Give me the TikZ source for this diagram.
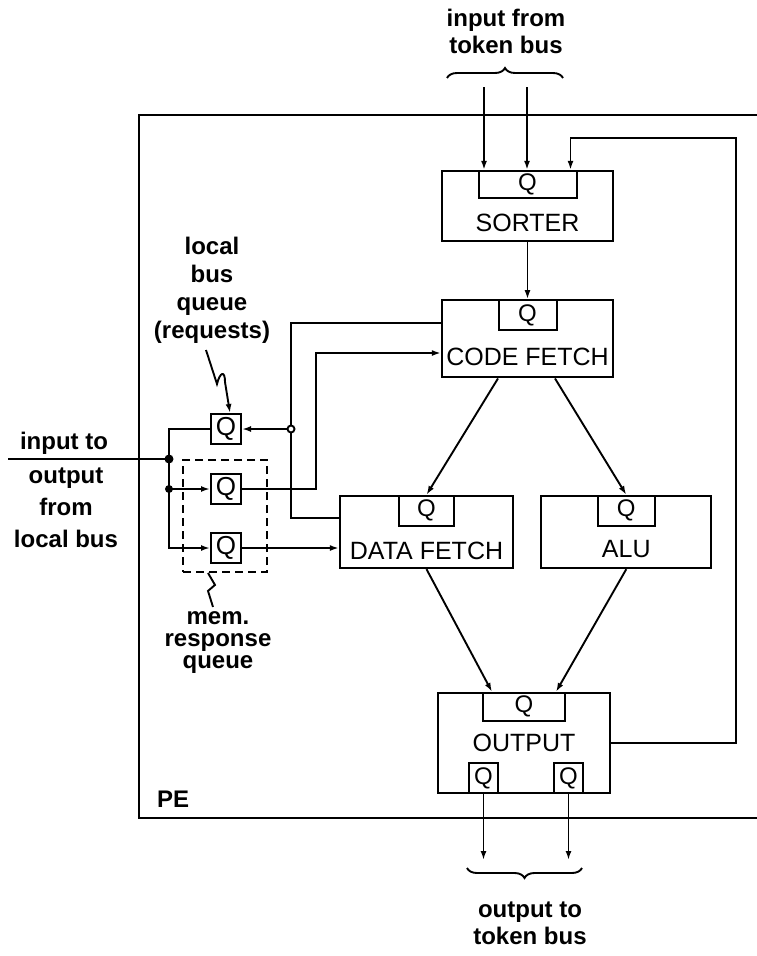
\documentclass[tikz,border=0pt]{standalone}
\usepackage{fontspec}
\setmainfont{Liberation Sans}
\usetikzlibrary{positioning,arrows.meta,decorations.pathreplacing}

\begin{document}
\begin{tikzpicture}[
    x=1pt, y=1pt,
    >={Latex[length=9pt,width=6pt]},
    every node/.style={font=\fontsize{25}{27}\selectfont},
    unit/.style={
      rectangle, draw, line width=2.3pt,
      minimum width=171pt, minimum height=72pt,
      inner sep=0pt
    },
    qbox/.style={
      rectangle, draw, line width=2pt,
      minimum height=30pt, inner sep=0pt,
      font=\fontsize{24}{26}\selectfont
    },
    unitlabel/.style={inner sep=0pt, anchor=base},
    note/.style={font=\bfseries\fontsize{24}{27}\selectfont, align=center, inner sep=0pt},
    wire/.style={line width=1.9pt},
    frame/.style={line width=2.4pt},
    brace/.style={line width=1.9pt, decorate, decoration={brace, amplitude=10pt}},
  ]

  \useasboundingbox (0,0) rectangle (757,-956);

  % PE frame
  \draw[frame] (757,-115) -- (139,-115) -- (139,-818) -- (757,-818);
  \node[note, anchor=base west] (pe) at (157,-807) {PE};

  % Units
  \node[unit, minimum height=70pt] (sorter) at (527.5,-206) {};
  \node[unit, minimum height=77pt] (code) [below=57pt of sorter] {};
  \node[unit, minimum width=173pt] (data) at (426.5,-532) {};
  \node[unit, minimum width=170pt] (alu) [right=26pt of data] {};
  \node[unit, minimum width=172pt, minimum height=100pt] (output) at (524,-743) {};

  \node[unitlabel] (sorterlbl) at ([yshift=11pt]sorter.south) {SORTER};
  \node[unitlabel] (codelbl)   at ([yshift=13pt]code.south)   {CODE FETCH};
  \node[unitlabel] (datalbl)   at ([yshift=10pt]data.south)   {DATA FETCH};
  \node[unitlabel] (alulbl)    at ([yshift=12pt]alu.south)    {ALU};
  \node[inner sep=0pt] (outputlbl) at (output.center) {OUTPUT};

  % Queues of the units
  \node[qbox, minimum width=98pt, minimum height=27pt, anchor=north] (sorterq) at (sorter.north) {Q};
  \node[qbox, minimum width=58pt, anchor=north] (codeq) at (code.north) {Q};
  \node[qbox, minimum width=55pt, anchor=north] (dataq) at (data.north) {Q};
  \node[qbox, minimum width=57pt, anchor=north] (aluq)  at (alu.north)  {Q};
  \node[qbox, minimum width=82pt, minimum height=28pt, anchor=north] (outq) at (output.north) {Q};
  \node[qbox, minimum width=29pt, anchor=south] (outql) at ([xshift=-40.5pt]output.south) {Q};
  \node[qbox, minimum width=29pt, anchor=south] (outqr) at ([xshift=44.5pt]output.south) {Q};

  % Local bus queues
  \node[qbox, minimum width=30pt, font=\fontsize{26}{28}\selectfont] (reqq) at (226,-429) {Q};
  \node[qbox, minimum width=30pt, font=\fontsize{26}{28}\selectfont] (memqa) [below=28pt of reqq] {Q};
  \node[qbox, minimum width=30pt, font=\fontsize{26}{28}\selectfont] (memqb) [below=27pt of memqa] {Q};
  \node[draw, wire, dash pattern=on 8pt off 5pt, minimum width=84pt, minimum height=112pt,
        inner sep=0pt] (memq) at (225,-516) {};

  % Labels
  \node[note, anchor=north] (tokinlbl) at (506,-9) {input from\\token bus};
  \node[note, anchor=north] (tokoutlbl) at (530,-902) {output to\\token bus};
  \node[note, anchor=north, font=\bfseries\fontsize{24}{28}\selectfont] (lbqlbl) at (212,-237)
    {local\\bus\\queue\\(requests)};
  \node[note, anchor=base] (inlbl) at (64,-449) {input to};
  \node[note, anchor=north, font=\bfseries\fontsize{24}{32}\selectfont] (outlbl) at (66,-468)
    {output\\from\\local bus};
  \node[note, anchor=north, font=\bfseries\fontsize{24}{22}\selectfont] (memlbl) at (218,-611)
    {mem.\\response\\queue};

  % Bus coordinates
  \coordinate (busin)    at (8,-459);
  \coordinate (busjoin)  at (169,-459);
  \coordinate (bustap)   at (busjoin |- memqa.west);
  \coordinate (bussplit) at (291,-429);
  \coordinate (riser)    at (316,-353);
  \coordinate (fbcorner) at (736,-138);
  \coordinate (tokin1)   at (484,-87);
  \coordinate (tokin2)   at (527,-87);
  \coordinate (tokout1)  at (483.5,-860);
  \coordinate (tokout2)  at (568.5,-860);

  % Token bus
  \draw[wire, ->] (tokin1) -- (tokin1 |- sorter.north);
  \draw[wire, ->] (tokin2) -- (tokin2 |- sorter.north);
  \draw[wire, ->] (outql.south) -- (tokout1);
  \draw[wire, ->] (outqr.south) -- (tokout2);
  \draw[brace] (447,-78) -- (563,-78);
  \draw[brace] (582,-868) -- (467,-868);

  % Token flow
  \draw[wire, ->] (sorter.south) -- (codeq.north);
  \draw[wire, ->] ([xshift=-29.5pt]code.south) -- (dataq.north);
  \draw[wire, ->] ([xshift=27.5pt]code.south) -- (aluq.north);
  \draw[wire, ->] (data.south) -- ([xshift=10pt]outq.north west);
  \draw[wire, ->] (alu.south) -- ([xshift=-10pt]outq.north east);
  \draw[wire, ->] (output.east) -| (fbcorner) -| ([xshift=-7pt]sorterq.north east);

  % Local bus
  \draw[wire] (busin) -- (busjoin);
  \draw[wire] (busjoin) |- (reqq.west);
  \draw[wire, ->] (busjoin) |- (memqb.west);
  \draw[wire, ->] (bustap) -- (memqa.west);
  \fill (busjoin) circle (4.5pt);
  \fill (bustap) circle (4pt);

  % Requests and responses
  \draw[wire] ([yshift=15.5pt]code.west) -| (bussplit) |- ([yshift=14pt]data.west);
  \draw[wire, ->] (bussplit) -- (reqq.east);
  \draw[wire, fill=white] (bussplit) circle (3.5pt);
  \draw[wire, ->] (memqa.east) -| (riser) -- (riser -| code.west);
  \draw[wire, ->] (memqb.east) -- (memqb.east -| data.west);

  % Pointers
  \draw[wire, ->] (206,-350) -- (217,-384) .. controls (220,-372) and (225,-370) .. (225,-382)
    -- ([xshift=4pt]reqq.north);
  \draw[wire] ([xshift=-17pt]memq.south) -- ++(7,-12) -- ++(-7,-6) -- ++(5,-16);

\end{tikzpicture}
\end{document}
